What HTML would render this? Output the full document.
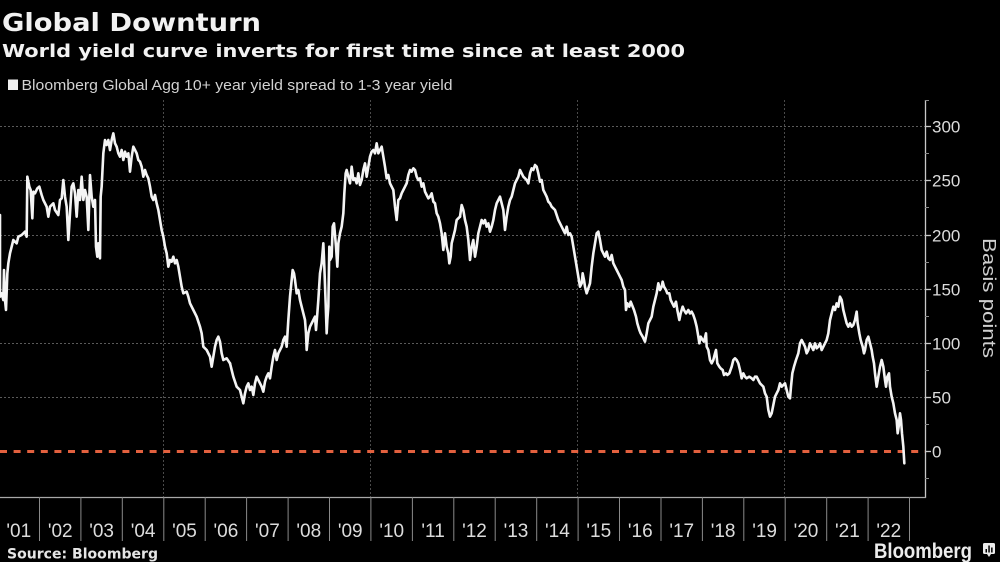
<!DOCTYPE html>
<html>
<head>
<meta charset="utf-8">
<style>
  html, body { margin: 0; padding: 0; background: #000; }
  body { width: 1000px; height: 562px; overflow: hidden; }
  svg { display: block; }
</style>
</head>
<body>
<svg width="1000" height="562" viewBox="0 0 1000 562" xmlns="http://www.w3.org/2000/svg">
  <rect x="0" y="0" width="1000" height="562" fill="#000"/>

  <!-- Titles -->
  <text x="2" y="31" font-family="DejaVu Sans, sans-serif" font-weight="bold" font-size="25" fill="#f2f2f2" textLength="259" lengthAdjust="spacingAndGlyphs">Global Downturn</text>
  <text x="2" y="57" font-family="DejaVu Sans, sans-serif" font-weight="bold" font-size="18" fill="#f2f2f2" textLength="683" lengthAdjust="spacingAndGlyphs">World yield curve inverts for first time since at least 2000</text>

  <!-- Legend -->
  <rect x="8" y="79.5" width="10" height="10.5" fill="#f0f0f0"/>
  <text x="21.5" y="90" font-family="Liberation Sans, sans-serif" font-size="15" fill="#d2d2d2" textLength="431" lengthAdjust="spacingAndGlyphs">Bloomberg Global Agg 10+ year yield spread to 1-3 year yield</text>

  <!-- Horizontal grid -->
  <g stroke="#5a5a5a" stroke-width="1" stroke-dasharray="2,2">
    <line x1="0" y1="126.5" x2="925" y2="126.5"/>
    <line x1="0" y1="180.5" x2="925" y2="180.5"/>
    <line x1="0" y1="235.5" x2="925" y2="235.5"/>
    <line x1="0" y1="289.5" x2="925" y2="289.5"/>
    <line x1="0" y1="343.5" x2="925" y2="343.5"/>
    <line x1="0" y1="397.5" x2="925" y2="397.5"/>
  </g>
  <!-- Vertical grid -->
  <g stroke="#4a4a4a" stroke-width="1" stroke-dasharray="2,2">
    <line x1="163.5" y1="100" x2="163.5" y2="497"/>
    <line x1="370.5" y1="100" x2="370.5" y2="497"/>
    <line x1="577.5" y1="100" x2="577.5" y2="497"/>
    <line x1="784.5" y1="100" x2="784.5" y2="497"/>
  </g>

  <!-- Zero line -->
  <line x1="0" y1="451.5" x2="925" y2="451.5" stroke="#e2603e" stroke-width="3" stroke-dasharray="7,6.6"/>

  <!-- Axes -->
  <line x1="925.5" y1="100" x2="925.5" y2="498" stroke="#c8c8c8" stroke-width="1.3"/>
  <line x1="0" y1="497.5" x2="926" y2="497.5" stroke="#a8a8a8" stroke-width="1.3"/>
  <g stroke="#c8c8c8" stroke-width="1.3">
    <line x1="925" y1="126.5" x2="931" y2="126.5"/>
    <line x1="925" y1="180.5" x2="931" y2="180.5"/>
    <line x1="925" y1="235.5" x2="931" y2="235.5"/>
    <line x1="925" y1="289.5" x2="931" y2="289.5"/>
    <line x1="925" y1="343.5" x2="931" y2="343.5"/>
    <line x1="925" y1="397.5" x2="931" y2="397.5"/>
    <line x1="925" y1="451.5" x2="931" y2="451.5"/>
  </g>
  <g stroke="#8a8a8a" stroke-width="1">
    <line x1="925" y1="100.5" x2="929" y2="100.5"/>
    <line x1="925" y1="153.5" x2="929" y2="153.5"/>
    <line x1="925" y1="207.5" x2="929" y2="207.5"/>
    <line x1="925" y1="262.5" x2="929" y2="262.5"/>
    <line x1="925" y1="316.5" x2="929" y2="316.5"/>
    <line x1="925" y1="370.5" x2="929" y2="370.5"/>
    <line x1="925" y1="424.5" x2="929" y2="424.5"/>
    <line x1="925" y1="478.5" x2="929" y2="478.5"/>
  </g>

  <!-- Y labels -->
  <g font-family="Liberation Sans, sans-serif" font-size="17" fill="#dcdcdc">
    <text x="932" y="132.5">300</text>
    <text x="932" y="186.5">250</text>
    <text x="932" y="241.5">200</text>
    <text x="932" y="295.5">150</text>
    <text x="932" y="349.5">100</text>
    <text x="932" y="403.5">50</text>
    <text x="932" y="457.5">0</text>
  </g>
  <text transform="translate(983,238) rotate(90)" font-family="Liberation Sans, sans-serif" font-size="18" fill="#cfcfcf" textLength="120" lengthAdjust="spacingAndGlyphs">Basis points</text>

  <!-- Year ticks -->
  <g stroke="#8a8a8a" stroke-width="1">
    <line x1="39.5" y1="497" x2="39.5" y2="541"/>
    <line x1="80.9" y1="497" x2="80.9" y2="541"/>
    <line x1="122.3" y1="497" x2="122.3" y2="541"/>
    <line x1="163.8" y1="497" x2="163.8" y2="541"/>
    <line x1="205.2" y1="497" x2="205.2" y2="541"/>
    <line x1="246.6" y1="497" x2="246.6" y2="541"/>
    <line x1="288.1" y1="497" x2="288.1" y2="541"/>
    <line x1="329.5" y1="497" x2="329.5" y2="541"/>
    <line x1="370.9" y1="497" x2="370.9" y2="541"/>
    <line x1="412.4" y1="497" x2="412.4" y2="541"/>
    <line x1="453.8" y1="497" x2="453.8" y2="541"/>
    <line x1="495.2" y1="497" x2="495.2" y2="541"/>
    <line x1="536.7" y1="497" x2="536.7" y2="541"/>
    <line x1="578.1" y1="497" x2="578.1" y2="541"/>
    <line x1="619.5" y1="497" x2="619.5" y2="541"/>
    <line x1="661.0" y1="497" x2="661.0" y2="541"/>
    <line x1="702.4" y1="497" x2="702.4" y2="541"/>
    <line x1="743.8" y1="497" x2="743.8" y2="541"/>
    <line x1="785.2" y1="497" x2="785.2" y2="541"/>
    <line x1="826.7" y1="497" x2="826.7" y2="541"/>
    <line x1="868.1" y1="497" x2="868.1" y2="541"/>
    <line x1="909.5" y1="497" x2="909.5" y2="541"/>
  </g>
  <g font-family="Liberation Sans, sans-serif" font-size="19" fill="#dcdcdc" text-anchor="middle">
    <text x="18.8" y="537">'01</text>
    <text x="60.2" y="537">'02</text>
    <text x="101.6" y="537">'03</text>
    <text x="143.1" y="537">'04</text>
    <text x="184.5" y="537">'05</text>
    <text x="225.9" y="537">'06</text>
    <text x="267.4" y="537">'07</text>
    <text x="308.8" y="537">'08</text>
    <text x="350.2" y="537">'09</text>
    <text x="391.7" y="537">'10</text>
    <text x="433.1" y="537">'11</text>
    <text x="474.5" y="537">'12</text>
    <text x="516.0" y="537">'13</text>
    <text x="557.4" y="537">'14</text>
    <text x="598.8" y="537">'15</text>
    <text x="640.3" y="537">'16</text>
    <text x="681.7" y="537">'17</text>
    <text x="723.1" y="537">'18</text>
    <text x="764.6" y="537">'19</text>
    <text x="806.0" y="537">'20</text>
    <text x="847.4" y="537">'21</text>
    <text x="888.8" y="537">'22</text>
  </g>

  <!-- Series -->
  <g fill="none" stroke="#f4f4f4" stroke-linejoin="round" stroke-linecap="round">
    <g transform="translate(0,120) scale(0.33333)">
      <polyline vector-effect="non-scaling-stroke" stroke-width="2.6" points="0,285 0,530 5,520 10,540 12,450 15,540 18,570 22,460 25,430 30,400 35,380 40,360 50,370 55,350 65,345 75,335 80,350 82,170 88,200 92,210 97,295 100,215 105,220 112,205 118,200 125,225 130,240 140,260 145,290 150,260 160,250 165,270 175,285 180,240 185,235 190,180 195,230 200,260 205,360 210,280 215,200 220,190 225,220 230,290 235,210 240,240 245,170 250,240 255,210 260,230 265,330 270,165 275,230 280,260 285,240 288,380 292,410 295,370 300,415 302,230 305,200 310,100 315,60 320,75 325,60 330,90 335,60 340,40 345,70 350,80 355,100 360,110 365,90 370,120 375,95 380,110 385,100 390,155 395,110 400,80 405,90 410,100 415,120 420,125 425,140 430,170 435,150 440,165 445,175 450,200 455,230 460,240 465,225 470,250 475,270 480,300 485,330 490,350 495,380 500,400 505,440 510,420 515,425 520,410 525,430 530,420 535,440 540,470 545,500 550,520 560,515 565,530 570,550 580,570 590,590 600,620 605,640 610,680 620,690 630,710 635,740 640,710 645,680 650,660 655,650 660,665 665,700 670,720 680,715 690,730"/>
    </g>
    <g transform="translate(230,120) scale(0.33333)">
      <polyline vector-effect="non-scaling-stroke" stroke-width="2.6" points="0,730 10,770 20,800 30,810 40,850 45,820 50,800 55,790 60,810 65,800 70,825 75,790 80,770 85,780 90,790 95,800 100,815 105,785 110,770 115,760 120,775 125,740 130,710 135,690 140,720 145,700 150,690 155,680 160,660 165,650 170,680 175,600 180,530 185,480 188,450 192,460 195,480 200,520 205,510 210,540 215,560 220,580 225,600 228,640 230,690 235,640 240,620 245,610 250,600 255,590 258,630 262,580 265,540 270,460 275,430 280,370 283,440 287,550 290,640 292,600 295,560 298,380 300,420 305,410 308,320 312,310 318,380 322,440 325,370 330,340 335,320 340,280 343,220 347,160 350,150 355,170 360,190 365,140 370,180 375,175 380,190 385,160 390,195 395,180 400,150 405,130 410,170 415,140 420,110 425,95 430,90 435,100 440,70 445,100 450,90 455,80 460,110 465,140 470,175 475,165 480,190 485,200 490,210 495,260 500,300 505,240 510,235 515,220 520,210 525,200 530,190 535,165 540,150 545,155 550,145 555,150 560,170 565,180 570,175 575,200 580,190 585,215 590,225 595,235 600,230 605,220 610,245 615,250 620,280 625,290 630,310 635,340 640,390 645,340 650,380 655,400 658,430 662,410 665,370 670,350 675,330 680,300 685,295 690,290"/>
    </g>
    <g transform="translate(460,120) scale(0.33333)">
      <polyline vector-effect="non-scaling-stroke" stroke-width="2.6" points="0,290 5,255 10,270 15,300 20,320 25,360 30,420 35,380 40,360 45,410 50,380 55,340 60,320 65,300 70,310 75,300 80,320 85,310 90,335 95,320 100,300 105,270 110,250 115,240 120,230 125,250 130,270 135,330 140,290 145,260 150,240 155,230 160,210 165,190 170,180 175,170 180,150 185,160 190,170 195,175 200,180 205,190 210,160 215,145 220,150 225,135 230,140 235,160 240,185 245,180 250,210 255,220 260,230 265,245 270,250 275,260 280,265 285,270 290,285 295,300 300,310 305,320 310,330 315,340 320,320 325,345 330,340 335,350 340,380 345,410 350,440 355,470 360,500 365,490 368,460 372,480 375,500 380,520 385,505 390,490 395,440 400,400 405,370 410,340 415,335 420,360 425,390 430,400 435,410 440,395 445,415 450,420 455,405 460,430 465,440 470,450 475,460 480,470 485,480 490,500 495,510 498,570 502,550 508,560 512,545 518,560 522,570 528,590 532,610 538,630 542,640 548,650 555,665 560,640 565,610 570,600 575,590 580,560 585,540 590,520 595,490 600,510 605,500 608,485 612,500 618,510 622,520 628,520 632,540 637,550 642,560 648,545 652,570 658,600 662,580 668,560 672,570 678,580 685,570 690,580"/>
    </g>
    <g transform="translate(690,120) scale(0.33333)">
      <polyline vector-effect="non-scaling-stroke" stroke-width="2.6" points="0,580 5,575 10,585 15,600 20,620 25,650 28,670 32,650 38,660 42,665 48,640 50,680 55,690 60,720 65,730 70,720 75,700 78,690 82,730 88,740 92,745 98,750 102,765 108,760 112,765 118,760 125,740 130,720 135,715 140,720 145,730 150,750 155,775 160,760 165,770 170,775 178,770 185,775 190,780 195,770 200,770 205,780 210,790 215,795 220,800 225,820 230,830 235,870 240,890 245,880 250,855 255,830 260,820 265,810 270,790 275,800 280,795 285,790 290,810 295,830 300,835 303,800 307,760 312,740 318,720 325,700 330,670 335,660 340,670 345,680 350,700 355,690 360,670 365,680 370,690 375,670 380,685 385,680 390,670 395,690 400,680 405,670 410,660 415,640 420,600 425,580 430,560 435,570 440,550 445,560 450,530 455,540 460,570 465,590 470,610 475,620 480,610 485,620 490,615 495,600 500,575 503,610 508,640 512,660 518,680 522,700 525,690 530,660 535,650 540,670 545,690 548,710 552,730 555,760 560,800 565,770 570,740 575,720 580,740 585,780 588,800 592,770 597,760 600,800 605,830 610,850 615,880 620,900 623,940 626,920 630,880 633,900 636,940 640,980 643,1030"/>
    </g>
  </g>

  <!-- Footer -->
  <text x="7" y="558.5" font-family="DejaVu Sans, sans-serif" font-weight="bold" font-size="14" fill="#e6e6e6" textLength="151" lengthAdjust="spacingAndGlyphs">Source: Bloomberg</text>
  <text x="874" y="558" font-family="Liberation Sans, sans-serif" font-weight="bold" font-size="21" fill="#ececec" textLength="98" lengthAdjust="spacingAndGlyphs">Bloomberg</text>
  <g>
    <rect x="983" y="543" width="12" height="11" rx="1.5" fill="#ececec"/>
    <polygon points="987,554 991,554 989,557" fill="#ececec"/>
    <rect x="985.5" y="549" width="1.5" height="3.5" fill="#000"/>
    <rect x="988.3" y="545.5" width="1.5" height="7" fill="#000"/>
    <rect x="991.1" y="547.5" width="1.5" height="5" fill="#000"/>
  </g>
</svg>
</body>
</html>
